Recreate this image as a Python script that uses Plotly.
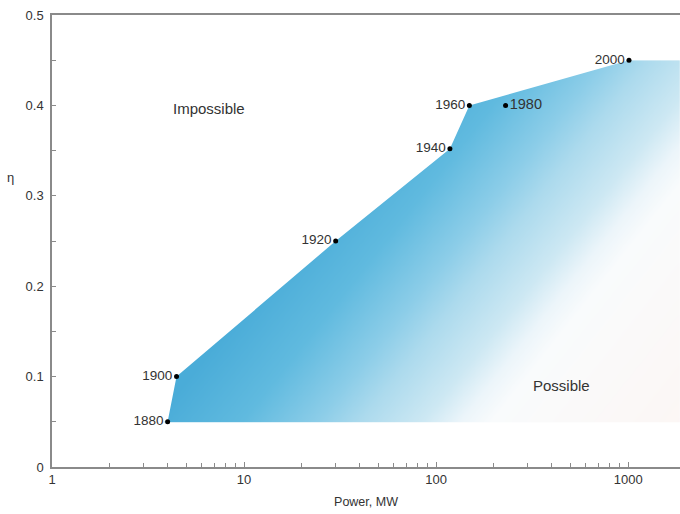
import numpy as np
import plotly.graph_objects as go

# ---- data ----
years = ["1880", "1900", "1920", "1940", "1960", "1980", "2000"]
power_mw = [4.0, 4.45, 30.0, 118.0, 149.0, 230.0, 1010.0]
efficiency = [0.05, 0.10, 0.25, 0.352, 0.40, 0.40, 0.45]
frontier_years = ["1880", "1900", "1920", "1940", "1960", "2000"]
region_labels = ["Impossible", "Possible"]
x_tick_vals = [1, 10, 100, 1000]
y_tick_vals = [0, 0.1, 0.2, 0.3, 0.4, 0.5]

# ---- layout constants (style) ----
W, H = 680, 514
ML, MR, MT, MB = 52, 0, 15, 47
XLOG_MAX = 3.27
YMAX = 0.5
font_family = "Liberation Sans, Arial, sans-serif"
txt_col = "#333333"

fx = [power_mw[years.index(y)] for y in frontier_years]
fy = [efficiency[years.index(y)] for y in frontier_years]
x_right = 10 ** XLOG_MAX
floor_y = fy[0]
top_y = fy[-1]

fig = go.Figure()

# ---- diagonal gradient backdrop (style only) ----
nx, ny = 200, 100
lx_edges = np.linspace(np.log10(fx[0]) - 0.02, XLOG_MAX, nx + 1)
y_edges = np.linspace(floor_y, top_y, ny + 1)
lx_c = (lx_edges[:-1] + lx_edges[1:]) / 2
y_c = (y_edges[:-1] + y_edges[1:]) / 2
pw, ph = W - ML - MR, H - MT - MB
PX = ML + lx_c[None, :] / XLOG_MAX * pw
PY = MT + (YMAX - y_c[:, None]) / YMAX * ph
G = 160 * PX + 127 * PY
gmin, gmax = 78000, 165000
stops = [(78000, "rgb(74,172,216)"), (92000, "rgb(96,186,223)"),
         (104000, "rgb(140,205,232)"), (111000, "rgb(172,218,237)"),
         (121000, "rgb(205,232,243)"), (127000, "rgb(236,245,250)"),
         (132000, "rgb(249,251,252)"), (165000, "rgb(252,246,244)")]
cscale = [[(g - gmin) / (gmax - gmin), c] for g, c in stops]
fig.add_trace(go.Heatmap(
    x=10 ** lx_edges, y=y_edges, z=G, colorscale=cscale, zmin=gmin, zmax=gmax,
    showscale=False, zsmooth="best", hoverinfo="skip"))

# ---- white mask above the frontier ----
mask_x = [1, fx[0]] + fx[1:] + [x_right, x_right, 1, 1]
mask_y = [floor_y, floor_y] + fy[1:] + [top_y, YMAX, YMAX, floor_y]
fig.add_trace(go.Scatter(x=mask_x, y=mask_y, mode="lines", fill="toself",
                         fillcolor="white", line=dict(width=0, color="white"),
                         hoverinfo="skip", showlegend=False))

# ---- data points ----
positions = ["middle left"] * len(years)
positions[years.index("1980")] = "middle right"
sizes = [13.5] * len(years)
sizes[years.index("1980")] = 14.5
fig.add_trace(go.Scatter(
    x=power_mw, y=efficiency, mode="markers+text", text=years,
    textposition=positions,
    textfont=dict(size=sizes, color=txt_col, family=font_family),
    marker=dict(color="black", size=5), showlegend=False))

# ---- region labels ----
fig.add_annotation(x=np.log10(6.6), y=0.397, text=region_labels[0], showarrow=False,
                   font=dict(size=15, color=txt_col, family=font_family))
fig.add_annotation(x=np.log10(450), y=0.09, text=region_labels[1], showarrow=False,
                   font=dict(size=15, color=txt_col, family=font_family))
fig.add_annotation(x=-0.066, y=0.32, xref="paper", yref="y", text="η", showarrow=False,
                   xanchor="center",
                   font=dict(size=13, color=txt_col, family=font_family))

fig.update_layout(
    width=W, height=H, margin=dict(l=ML, r=MR, t=MT, b=MB),
    plot_bgcolor="white", paper_bgcolor="white", showlegend=False,
    font=dict(family=font_family, color=txt_col, size=12),
    xaxis=dict(type="log", range=[0, XLOG_MAX], showgrid=False, zeroline=False,
               automargin=False,
               showline=True, linecolor="#8a8a8a", linewidth=1.5, mirror=True,
               ticks="inside", ticklen=5, tickcolor="#8a8a8a", tickvals=x_tick_vals,
               ticktext=[str(v) for v in x_tick_vals],
               minor=dict(ticks="inside", ticklen=4, tickcolor="#8a8a8a", dtick="D1"),
               title=dict(text="Power, MW", standoff=11, font=dict(size=12.5)),
               tickfont=dict(size=13)),
    yaxis=dict(range=[0, YMAX], showgrid=False, zeroline=False, automargin=False,
               showline=True, linecolor="#8a8a8a", linewidth=1.5,
               ticks="inside", ticklen=4, tickcolor="#8a8a8a", tickvals=y_tick_vals,
               minor=dict(ticks="inside", ticklen=4, tickcolor="#8a8a8a", dtick=0.05),
               tickfont=dict(size=13), ticklabelstandoff=4),
)

fig.write_html("out.html", config={"displayModeBar": False},
               post_script="document.body.style.margin='0';document.body.style.padding='0';")
